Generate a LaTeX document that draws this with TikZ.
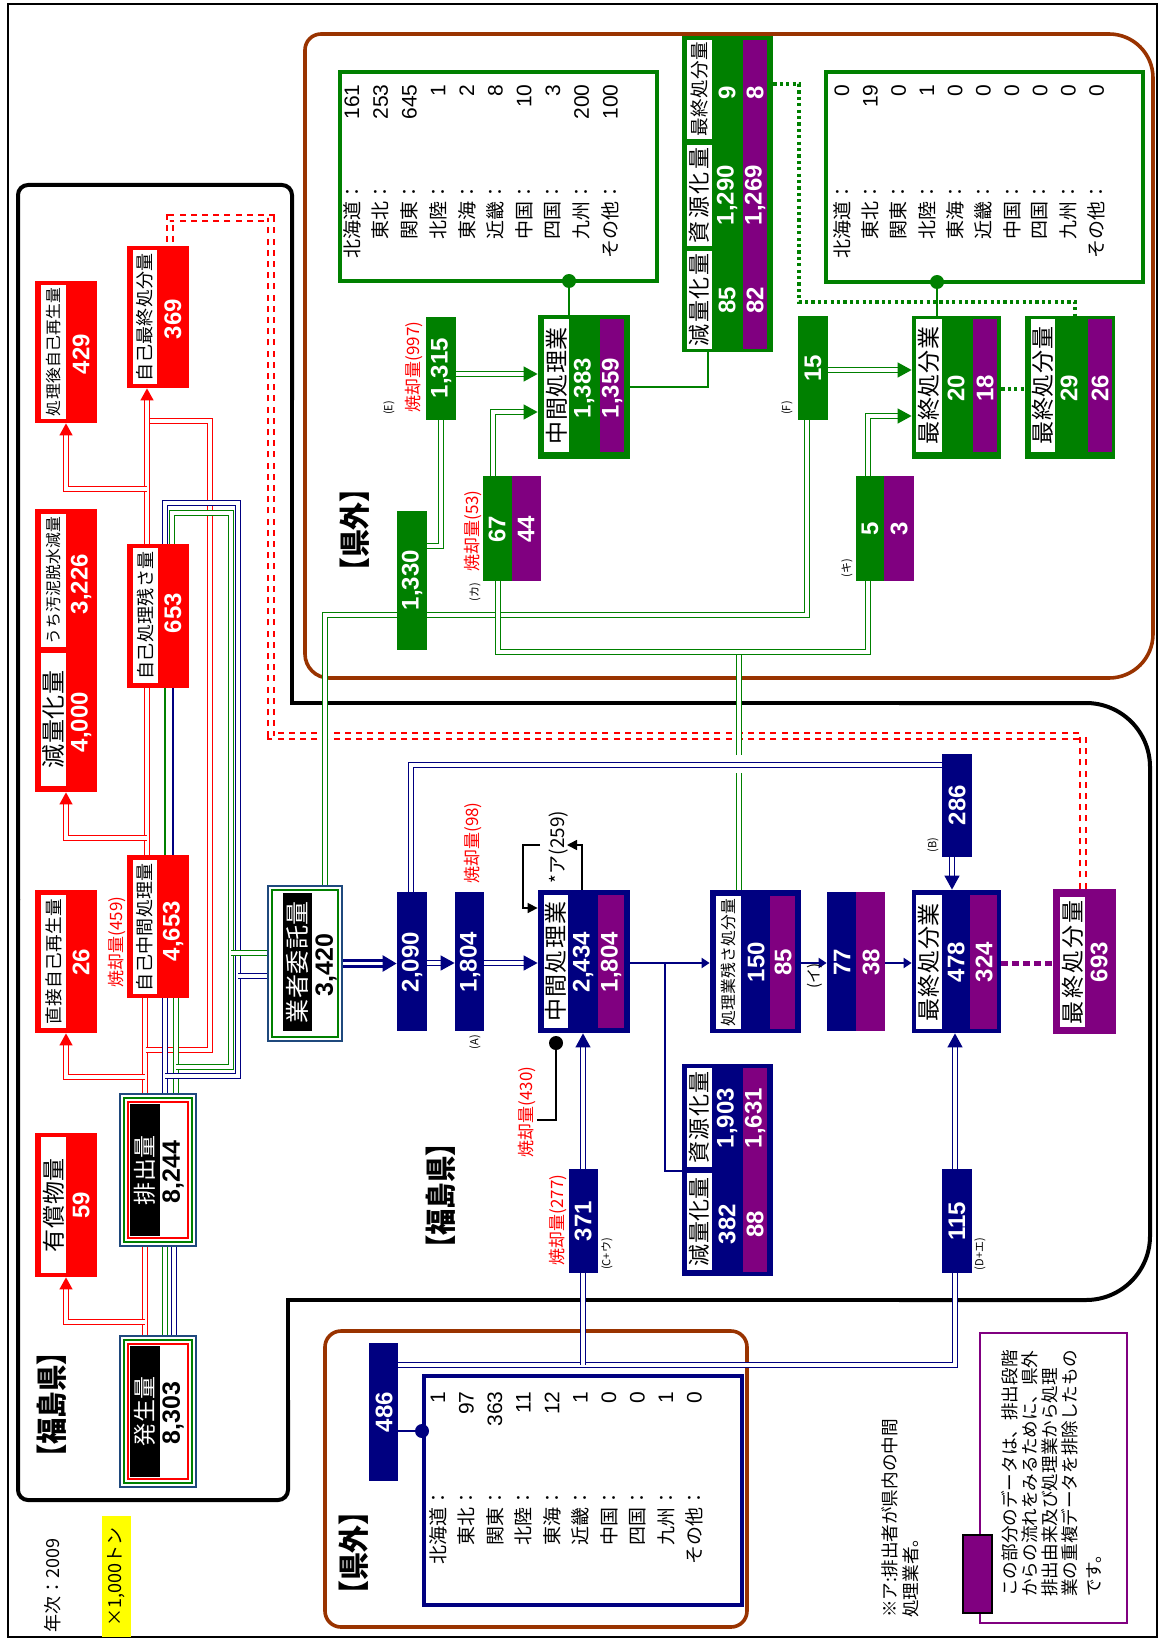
\documentclass[tikz,border=0pt]{standalone}
\usepackage{fontspec}
\setmainfont{Liberation Sans}
\newfontfamily\jpf{Noto Sans CJK JP}
\usetikzlibrary{fit,arrows.meta}
\definecolor{nv}{RGB}{0,0,128}
\definecolor{pp}{RGB}{128,0,128}
\definecolor{gr}{RGB}{0,128,0}
\definecolor{brn}{RGB}{153,51,0}
\definecolor{rd}{RGB}{255,0,0}
\definecolor{sb}{RGB}{31,73,125}
\definecolor{yl}{RGB}{255,255,0}
\newcommand\jfs[1]{\jpf\fontsize{#1}{#1}\selectfont}
\newcommand\nfs[1]{\fontsize{#1}{#1}\selectfont}
\makeatletter
\def\ilvend{\ilv@end@marker}
\def\ilv#1{\ilvA#1\ilvend}
\def\ilvA#1{#1\futurelet\ilvnext\ilvB}
\def\ilvB{\ifx\ilvnext\ilvend\expandafter\ilvC\else\hfil\expandafter\ilvA\fi}
\def\ilvC\ilvend{}
\makeatother
% name, x1, y1, x2, y2, font size, text length (pt), text
\newcommand\wst[8]{%
  \node[fit={(#2,#3)(#4,#5)}, inner sep=0pt, fill=white] (#1) {};
  \node[rotate=90, inner sep=0pt, font=\jfs{#6}] (#1t) at (#1.center)
    {\makebox[#7pt][s]{\ilv{#8}}};}
\tikzset{
  dl/.style={double=white, double distance=1.6pt, line width=0.65pt},
  dla/.style={dl, -{Triangle[length=7pt,width=7.5pt]}},
  dlar/.style={dl, -{Triangle[length=6pt,width=6.5pt]}},
  sl/.style={line width=1pt},
  sla/.style={line width=1pt, -{Triangle[length=4pt,width=5pt]}},
  nw/.style={rotate=90, inner sep=0pt, text=white, font=\nfs{12}\bfseries},
  nk/.style={rotate=90, inner sep=0pt, text=black, font=\nfs{12.5}\bfseries},
  rl/.style={rotate=90, inner sep=0pt, text=rd, font=\jfs{8.5}},
  tl/.style={rotate=90, inner sep=0pt, font=\jfs{5.5}},
  lbl/.style={rotate=90, inner sep=0pt, font=\jfs{9.5}},
  val/.style={rotate=90, inner sep=0pt, font=\nfs{10.5}},
  nt/.style={rotate=90, inner sep=0pt, font=\jfs{8.8}},
  ttl/.style={rotate=90, inner sep=0pt, font=\jfs{15.5}\bfseries},
  bxf/.style={inner sep=0pt, fill=#1},
  gdot/.style={gr, line width=1.6pt, dash pattern=on 1.6pt off 1.6pt},
  pdot/.style={pp, line width=2.5pt, dash pattern=on 3.5pt off 2pt},
  rdash/.style={rd, double=white, double distance=2pt, line width=0.9pt, dash pattern=on 3pt off 2.6pt},
  dotn/.style={circle, fill=#1, inner sep=0pt, minimum size=7pt},
  blk/.style={line width=2pt, black},
  brl/.style={line width=1.8pt, brn},
}
\begin{document}
\begin{tikzpicture}[x=0.5pt,y=-0.5pt]
\useasboundingbox (0,0) rectangle (1160,1642);
\fill[white] (0,0) rectangle (1160,1642);
\draw[line width=1.2pt] (8,4) rectangle (1157,1637);

% ---------- regions ----------
\draw[blk, rounded corners=5pt] (18,900) -- (18,185) -- (292,185) -- (292,400);
\draw[blk] (292,399) -- (292,703) -- (900,703);
\draw[blk, rounded corners=32pt] (899,703) -- (1150,703) -- (1150,1300) -- (899,1300);
\draw[blk] (900,1300) -- (288,1300) -- (288,1401);
\draw[blk, rounded corners=5pt] (288,1400) -- (288,1500) -- (18,1500) -- (18,899);

\draw[brl, rounded corners=8pt] (305,400) -- (305,34) -- (700,34);
\draw[brl, rounded corners=22pt] (699,34) -- (1153,34) -- (1153,678) -- (699,678);
\draw[brl, rounded corners=12pt] (700,678) -- (305,678) -- (305,399);
\draw[brl, rounded corners=8pt] (325,1331) rectangle (747,1627);

% ---------- anchor nodes for the boxes ----------
\node[fit={(120,1336)(196,1487)}, inner sep=0pt] (hassei) {};
\node[fit={(120,1094)(196,1246)}, inner sep=0pt] (haishutsu) {};
\node[fit={(268,886)(342,1041)}, inner sep=0pt] (itaku) {};
\node[fit={(35,1133)(97,1277)}, inner sep=0pt] (yushou) {};
\node[fit={(35,890)(97,1033)}, inner sep=0pt] (chokusetsu) {};
\node[fit={(35,509)(97,792)}, inner sep=0pt] (genryo) {};
\node[fit={(35,281)(97,423)}, inner sep=0pt] (shorigo) {};
\node[fit={(127,246)(189,388)}, inner sep=0pt] (jikoSaishu) {};
\node[fit={(127,544)(189,688)}, inner sep=0pt] (jikoZansa) {};
\node[fit={(127,855)(189,998)}, inner sep=0pt] (jikoChukan) {};
\node[fit={(397,892)(427,1031)}, inner sep=0pt] (b2090) {};
\node[fit={(455,892)(484,1031)}, inner sep=0pt] (b1804) {};
\node[fit={(538,890)(630,1033)}, inner sep=0pt] (chuN) {};
\node[fit={(710,890)(801,1033)}, inner sep=0pt] (zansaN) {};
\node[fit={(827,892)(885,1031)}, inner sep=0pt] (b77) {};
\node[fit={(912,890)(1001,1033)}, inner sep=0pt] (saishuN) {};
\node[fit={(1053,889)(1116,1034)}, inner sep=0pt] (kei693) {};
\node[fit={(942,754)(972,857)}, inner sep=0pt] (b286) {};
\node[fit={(942,1169)(972,1273)}, inner sep=0pt] (b115) {};
\node[fit={(569,1169)(598,1273)}, inner sep=0pt] (b371) {};
\node[fit={(682,1064)(773,1276)}, inner sep=0pt] (genN) {};
\node[fit={(369,1343)(398,1481)}, inner sep=0pt] (b486) {};
\node[fit={(424,1376)(742,1605)}, inner sep=0pt] (listN) {};
\node[fit={(397,511)(427,650)}, inner sep=0pt] (b1330) {};
\node[fit={(426,317)(456,420)}, inner sep=0pt] (b1315) {};
\node[fit={(483,476)(541,581)}, inner sep=0pt] (b67) {};
\node[fit={(538,315)(630,459)}, inner sep=0pt] (chuG) {};
\node[fit={(682,36)(773,352)}, inner sep=0pt] (genG) {};
\node[fit={(340,72)(657,281)}, inner sep=0pt] (listG1) {};
\node[fit={(798,316)(828,420)}, inner sep=0pt] (b15) {};
\node[fit={(856,476)(914,581)}, inner sep=0pt] (b5) {};
\node[fit={(912,316)(1001,459)}, inner sep=0pt] (saishuG) {};
\node[fit={(1025,316)(1115,459)}, inner sep=0pt] (kei29) {};
\node[fit={(826,72)(1143,282)}, inner sep=0pt] (listG2) {};

% ---------- red connectors ----------
\draw[dl,rd] (145,0 |- hassei.north) -- (145,0 |- haishutsu.south);
\draw[dlar,rd] (145,1322) -| (yushou.south);
\draw[dl,rd] (145,0 |- haishutsu.north) -- (145,0 |- jikoChukan.south);
\draw[dlar,rd] (145,1077) -| (chokusetsu.south);
\draw[dl,rd] (146,1050) -- (210,1050) -- (210,421) -- (147,421);
\draw[dl,rd] (147,0 |- jikoChukan.north) -- (147,0 |- jikoZansa.south);
\draw[dlar,rd] (147,838) -| (genryo.south);
\draw[dlar,rd] (147,0 |- jikoZansa.north) -- (147,0 |- jikoSaishu.south);
\draw[dlar,rd] (147,489) -| (shorigo.south);
\draw[rdash] (1083,0 |- kei693.north) -- (1083,736) -- (271,736) -- (271,218) -- (170,218) -- (170,0 |- jikoSaishu.north);

% ---------- green / blue from generation ----------
\draw[dl,gr] (165,0 |- hassei.north) -- (165,0 |- haishutsu.south);
\draw[dl,nv] (174,0 |- hassei.north) -- (174,0 |- haishutsu.south);
\draw[dl,nv] (165,0 |- haishutsu.north) -- (165,0 |- jikoChukan.south);
\draw[dl,gr] (176,0 |- haishutsu.north) -- (176,0 |- jikoChukan.south);
\draw[dl,nv] (165,1076) -- (238,1076) -- (238,503) -- (165,503) -- (165,0 |- jikoZansa.north);
\draw[dl,gr] (176,1067) -- (231,1067) -- (231,513) -- (172,513) -- (172,0 |- jikoZansa.north);
\draw[gr, line width=0.8pt] (165,0 |- jikoChukan.north) -- (165,0 |- jikoZansa.south);
\draw[nv, line width=0.8pt] (173,0 |- jikoChukan.north) -- (173,0 |- jikoZansa.south);
\draw[dl,gr] (231,953) -- (231,953 -| itaku.west);
\draw[dl,nv] (238,976) -- (238,976 -| itaku.west);

% ---------- out of prefecture (green) ----------
\draw[dl,gr] (325,0 |- itaku.north) -- (325,615) -- (807,615) -- (807,0 |- b15.south);
\draw[dl,gr] (b1330.east |- 0,546) -| (b1315.south);
\draw[dla,gr] (b1315.east |- 0,374) -- (chuG.west |- 0,374);
\draw[dla,gr] (493,0 |- b67.north) |- (chuG.west |- 0,412);
\draw[gr, line width=1pt] (chuG.east |- 0,387) -| (708,0 |- genG.south);
\draw[gr, line width=1pt] (569,0 |- chuG.north) -- (569,0 |- listG1.south);
\draw[dla,gr] (b15.east |- 0,370) -- (saishuG.west |- 0,370);
\draw[dla,gr] (868,0 |- b5.north) |- (saishuG.west |- 0,416);
\draw[gr, line width=1pt] (937,0 |- saishuG.north) -- (937,0 |- listG2.south);
\draw[gdot] (saishuG.east |- 0,389) -- (kei29.west |- 0,389);
\draw[gdot] (genG.east |- 0,84) -- (799,84) -- (799,302) -- (1075,302) -- (1075,0 |- kei29.north);
\draw[dl,gr] (739,0 |- zansaN.north) -- (739,773);
\draw[dl,gr] (739,755) -- (739,652);
\draw[dl,gr] (498,0 |- b67.south) -- (498,652) -- (868,652) -- (868,0 |- b5.south);

% ---------- in prefecture (navy) ----------
\draw[nv, double=white, double distance=1.5pt, line width=1.3pt, -{Triangle[length=7pt,width=8pt]}] (itaku.east) -- (itaku.east -| b2090.west);
\draw[dl,nv] (411,0 |- b2090.north) |- (b286.west |- 0,765);
\draw[dla,nv] (b2090.east |- 0,963) -- (b1804.west |- 0,963);
\draw[dla,nv] (b1804.east |- 0,963) -- (chuN.west |- 0,963);
\draw[dla,nv] (952,0 |- b286.south) -- (952,0 |- saishuN.north);
\draw[sla,nv] (chuN.east |- 0,963) -- (zansaN.west |- 0,963);
\draw[sl,nv] (665,963) |- (genN.west |- 0,1171);
\draw[sla,nv] (zansaN.east |- 0,963) -- (b77.west |- 0,963);
\draw[sla,nv] (b77.east |- 0,963) -- (saishuN.west |- 0,963);
\draw[pdot] (saishuN.east |- 0,963) -- (kei693.west |- 0,963);
\draw[dla,nv] (583,0 |- b371.north) -- (583,0 |- chuN.south);
\draw[dl,nv] (b486.east |- 0,1365) -- (955,1365) -- (955,0 |- b115.south);
\draw[dl,nv] (583,1365) -- (583,0 |- b371.south);
\draw[dla,nv] (955,0 |- b115.north) -- (955,0 |- saishuN.south);
\draw[sl,nv] (b486.east |- 0,1431) -- (listN.west |- 0,1431);

% loop *ア
\draw[line width=0.8pt, -{Triangle[length=5pt,width=5pt]}] (582,0 |- chuN.north) |- (567,845);
\draw[line width=0.8pt, -{Triangle[length=5pt,width=5pt]}] (540,845) -- (523,845) |- (chuN.west |- 0,908);
\node[rotate=90, inner sep=0pt, font=\jfs{9.5}] (loopT) at (559,847) {*ア(259)};
% pointer 430
\node[dotn=black] (dK1) at (556,1043) {};
\draw[line width=1pt] (dK1) -- (556,1120) -- (537,1120);

% ---------- composite boxes ----------
\node[fit={(120,1336)(196,1487)}, inner sep=0pt, draw=sb, line width=1.2pt, fill=white] (hasseiB) {};
\draw[gr, line width=1.2pt] (124,1340) rectangle (192,1483);
\draw[rd, line width=1.2pt] (128,1344) rectangle (188,1479);
\fill[black] (130,1346) rectangle (160,1477);
\node[rotate=90, inner sep=0pt, text=white, font=\jfs{11.5}] (hasseiL) at (145,1411) {\makebox[35pt][s]{\ilv{発生量}}};
\node[nk] (hasseiN) at (173,1413) {8,303};

\node[fit={(120,1094)(196,1246)}, inner sep=0pt, draw=sb, line width=1.2pt, fill=white] (haishutsuB) {};
\draw[gr, line width=1.2pt] (124,1098) rectangle (192,1242);
\draw[rd, line width=1.2pt] (128,1102) rectangle (188,1238);
\fill[black] (130,1104) rectangle (160,1236);
\node[rotate=90, inner sep=0pt, text=white, font=\jfs{11.5}] (haishutsuL) at (145,1170) {\makebox[35pt][s]{\ilv{排出量}}};
\node[nk] (haishutsuN) at (173,1172) {8,244};

\node[fit={(268,886)(342,1041)}, inner sep=0pt, draw=sb, line width=1.2pt, fill=white] (itakuB) {};
\draw[gr, line width=1.2pt] (272,890) rectangle (338,1037);
\fill[black] (283,893) rectangle (312,1031);
\node[rotate=90, inner sep=0pt, text=white, font=\jfs{12}] (itakuL) at (297,962) {\makebox[61pt][s]{\ilv{業者委託量}}};
\node[nk] (itakuN) at (326,965) {3,420};

% ---------- red boxes ----------
\node[fit={(35,1133)(97,1277)}, bxf=rd] (yushouB) {};
\wst{yushouS}{41}{1137}{66}{1273}{11.5}{47}{有償物量}
\node[nw] (yushouN) at (81,1205) {59};

\node[fit={(35,890)(97,1033)}, bxf=rd] (chokuB) {};
\wst{chokuS}{41}{895}{66}{1028}{8.8}{63}{直接自己再生量}
\node[nw] (chokuN) at (81,962) {26};

\node[fit={(35,509)(97,792)}, bxf=rd] (genryoB) {};
\wst{genryoS}{41}{653}{66}{786}{12}{49}{減量化量}
\wst{osdS}{41}{514}{66}{647}{7.9}{64}{うち汚泥脱水減量}
\node[nw] (genryoN) at (81,722) {4,000};
\node[nw] (osdN) at (81,584) {3,226};

\node[fit={(35,281)(97,423)}, bxf=rd] (shorigoB) {};
\wst{shorigoS}{41}{285}{66}{419}{7.9}{64}{処理後自己再生量}
\node[nw] (shorigoN) at (81,354) {429};

\node[fit={(127,246)(189,388)}, bxf=rd] (jSaishuB) {};
\wst{jSaishuS}{133}{250}{157}{384}{9}{64}{自己最終処分量}
\node[nw] (jSaishuN) at (173,319) {369};

\node[fit={(127,544)(189,688)}, bxf=rd] (jZansaB) {};
\wst{jZansaS}{133}{548}{158}{683}{9}{64}{自己処理残さ量}
\node[nw] (jZansaN) at (173,613) {653};

\node[fit={(127,855)(189,998)}, bxf=rd] (jChukanB) {};
\wst{jChukanS}{133}{860}{157}{994}{9}{64}{自己中間処理量}
\node[nw] (jChukanN) at (173,931) {4,653};
\node[rl] (shoL459) at (117,942) {焼却量(459)};

% ---------- navy boxes ----------
\node[fit={(397,892)(427,1031)}, bxf=nv] (b2090B) {};
\node[nw] (b2090N) at (412,962) {2,090};
\node[fit={(455,892)(484,1031)}, bxf=nv] (b1804B) {};
\node[nw] (b1804N) at (470,962) {1,804};
\node[tl] (labA) at (475,1042) {(A)};
\node[rl] (shoL98) at (473,843) {焼却量(98)};

\node[fit={(538,890)(630,1033)}, bxf=nv] (chuNB) {};
\wst{chuNS}{544}{895}{568}{1028}{11.5}{60}{中間処理業}
\fill[pp] (598,895) rectangle (624,1028);
\node[nw] (chuNa) at (583,962) {2,434};
\node[nw] (chuNb) at (611,962) {1,804};

\node[fit={(710,890)(801,1033)}, bxf=nv] (zansaNB) {};
\wst{zansaNS}{716}{896}{741}{1029}{7.9}{64}{処理業残さ処分量}
\fill[pp] (770,896) rectangle (795,1029);
\node[nw] (zansaNa) at (756,962) {150};
\node[nw] (zansaNb) at (783,962) {85};

\node[fit={(827,892)(885,1031)}, bxf=nv] (b77B) {};
\fill[pp] (856,892) rectangle (885,1031);
\node[nw] (b77a) at (842,962) {77};
\node[nw] (b77b) at (871,962) {38};
\node[rotate=90, inner sep=0pt, font=\jfs{7.5}] (labI) at (815,976) {(イ)};

\node[fit={(912,890)(1001,1033)}, bxf=nv] (saishuNB) {};
\wst{saishuNS}{916}{895}{942}{1029}{11.5}{59}{最終処分業}
\fill[pp] (970,895) rectangle (997,1029);
\node[nw] (saishuNa) at (956,962) {478};
\node[nw] (saishuNb) at (984,962) {324};

\node[fit={(1053,889)(1116,1034)}, bxf=pp] (kei693B) {};
\wst{kei693S}{1060}{897}{1085}{1027}{11.5}{62}{最終処分量}
\node[nw] (kei693N) at (1099,962) {693};

\node[fit={(942,754)(972,857)}, bxf=nv] (b286B) {};
\node[nw] (b286N) at (957,805) {286};
\node[tl] (labB) at (933,845) {(B)};
\node[fit={(942,1169)(972,1273)}, bxf=nv] (b115B) {};
\node[nw] (b115N) at (957,1221) {115};
\node[tl] (labD) at (980,1254) {(D+エ)};
\node[fit={(569,1169)(598,1273)}, bxf=nv] (b371B) {};
\node[nw] (b371N) at (583,1221) {371};
\node[tl] (labC) at (607,1254) {(C+ウ)};
\node[rl] (shoL277) at (558,1220) {焼却量(277)};
\node[rl] (shoL430) at (527,1112) {焼却量(430)};

\node[fit={(682,1064)(773,1276)}, bxf=nv] (genNB) {};
\wst{genNS1}{687}{1173}{712}{1270}{11}{44.5}{減量化量}
\wst{genNS2}{687}{1068}{712}{1167}{11}{46}{資源化量}
\fill[pp] (743,1068) rectangle (767,1272);
\node[nw] (genNa) at (727,1224) {382};
\node[nw] (genNb) at (727,1118) {1,903};
\node[nw] (genNc) at (755,1224) {88};
\node[nw] (genNd) at (755,1118) {1,631};

\node[fit={(369,1343)(398,1481)}, bxf=nv] (b486B) {};
\node[nw] (b486N) at (384,1412) {486};
\node[fit={(424,1376)(742,1605)}, inner sep=0pt, draw=nv, line width=2pt, fill=white] (listNB) {};
\node[dotn=nv] (dN1) at (422,1431) {};

% ---------- green boxes ----------
\node[fit={(397,511)(427,650)}, bxf=gr] (b1330B) {};
\node[nw] (b1330N) at (412,580) {1,330};
\node[fit={(426,317)(456,420)}, bxf=gr] (b1315B) {};
\node[nw] (b1315N) at (441,368) {1,315};
\node[rl] (shoL997) at (414,367) {焼却量(997)};
\node[tl] (labE) at (389,408) {(E)};
\node[fit={(483,476)(541,581)}, bxf=gr] (b67B) {};
\fill[pp] (512,476) rectangle (541,581);
\node[nw] (b67a) at (497,529) {67};
\node[nw] (b67b) at (526,529) {44};
\node[rl] (shoL53) at (473,531) {焼却量(53)};
\node[tl] (labKa) at (475,592) {(カ)};

\node[fit={(538,315)(630,459)}, bxf=gr] (chuGB) {};
\wst{chuGS}{544}{319}{569}{452}{11.5}{58.5}{中間処理業}
\fill[pp] (600,319) rectangle (624,452);
\node[nw] (chuGa) at (584,388) {1,383};
\node[nw] (chuGb) at (612,388) {1,359};

\node[fit={(682,36)(773,352)}, bxf=gr] (genGB) {};
\wst{genGS1}{687}{251}{712}{349}{11}{46.5}{減量化量}
\wst{genGS2}{687}{145}{712}{246}{11}{48}{資源化量}
\wst{genGS3}{687}{40}{712}{139}{9.3}{47.5}{最終処分量}
\fill[pp] (743,40) rectangle (767,349);
\node[nw] (genGa) at (727,300) {85};
\node[nw] (genGb) at (727,195) {1,290};
\node[nw] (genGc) at (727,93) {9};
\node[nw] (genGd) at (755,300) {82};
\node[nw] (genGe) at (755,195) {1,269};
\node[nw] (genGf) at (755,93) {8};

\node[fit={(798,316)(828,420)}, bxf=gr] (b15B) {};
\node[nw] (b15N) at (813,368) {15};
\node[tl] (labF) at (787,408) {(F)};
\node[fit={(856,476)(914,581)}, bxf=gr] (b5B) {};
\fill[pp] (884,476) rectangle (914,581);
\node[nw] (b5a) at (870,529) {5};
\node[nw] (b5b) at (899,529) {3};
\node[tl] (labKi) at (847,568) {(キ)};

\node[fit={(912,316)(1001,459)}, bxf=gr] (saishuGB) {};
\wst{saishuGS}{916}{319}{942}{452}{11.5}{59}{最終処分業}
\fill[pp] (973,319) rectangle (997,452);
\node[nw] (saishuGa) at (956,388) {20};
\node[nw] (saishuGb) at (985,388) {18};

\node[fit={(1025,316)(1115,459)}, bxf=gr] (kei29B) {};
\wst{kei29S}{1031}{319}{1055}{452}{11.5}{59}{最終処分量}
\fill[pp] (1088,319) rectangle (1112,452);
\node[nw] (kei29a) at (1069,388) {29};
\node[nw] (kei29b) at (1100,388) {26};

\node[fit={(340,72)(657,281)}, inner sep=0pt, draw=gr, line width=2pt, fill=white] (listG1B) {};
\node[fit={(826,72)(1143,282)}, inner sep=0pt, draw=gr, line width=2pt, fill=white] (listG2B) {};
\node[dotn=gr] (dG1) at (569,281) {};
\node[dotn=gr] (dG2) at (937,282) {};

% ---------- lists ----------
\foreach \i/\lab/\vA/\vB/\vC in {0/北海道/161/0/1, 1/東北/253/19/97, 2/関東/645/0/363, 3/北陸/1/1/11, 4/東海/2/0/12, 5/近畿/8/0/1, 6/中国/10/0/0, 7/四国/3/0/0, 8/九州/200/0/1, 9/その他/100/0/0}{
  \node[lbl, anchor=east] (gla\i) at (352+28.7*\i,182) {\lab：};
  \node[val, anchor=east] (gva\i) at (352+28.7*\i,84) {\vA};
  \node[lbl, anchor=east] (glb\i) at (842+28.3*\i,182) {\lab：};
  \node[val, anchor=east] (gvb\i) at (842+28.3*\i,84) {\vB};
  \node[lbl, anchor=east] (nla\i) at (438+28.5*\i,1488) {\lab：};
  \node[val, anchor=east] (nva\i) at (438+28.5*\i,1391) {\vC};
}

% ---------- titles and notes ----------
\node[ttl] (kengaiTop) at (355,530) {\scalebox{0.9}[1]{【県外】}};
\node[ttl] (fukuL) at (52,1405) {\scalebox{0.85}[1]{【福島県】}};
\node[ttl] (fukuM) at (441,1196) {\scalebox{0.85}[1]{【福島県】}};
\node[ttl] (kengaiBot) at (354,1553) {\scalebox{0.9}[1]{【県外】}};
\node[rotate=90, inner sep=0pt, font=\jfs{9}] (nenji) at (53,1585) {年次：2009};
\node[fit={(102,1516)(131,1637)}, bxf=yl] (unitBox) {};
\node[rotate=90, inner sep=0pt, font=\jfs{9}] (unitT) at (116,1577) {×1,000トン};

\node[nt, anchor=west] (noteA1) at (890,1618) {※ア:排出者が県内の中間};
\node[nt, anchor=west] (noteA2) at (911,1618) {処理業者。};

\node[fit={(980,1333)(1127,1623)}, inner sep=0pt, draw=pp, line width=1pt] (legend) {};
\node[fit={(963,1535)(992,1613)}, inner sep=0pt, draw=black, line width=0.6pt, fill=pp] (legendSw) {};
\node[nt, anchor=west] (lg1) at (1010,1597) {この部分のデータは、排出段階};
\node[nt, anchor=west] (lg2) at (1030,1597) {からの流れをみるために、県外};
\node[nt, anchor=west] (lg3) at (1050,1597) {排出由来及び処理業から処理};
\node[nt, anchor=west] (lg4) at (1070,1597) {業の重複データを排除したもの};
\node[nt, anchor=west] (lg5) at (1094,1597) {です。};
\end{tikzpicture}
\end{document}
